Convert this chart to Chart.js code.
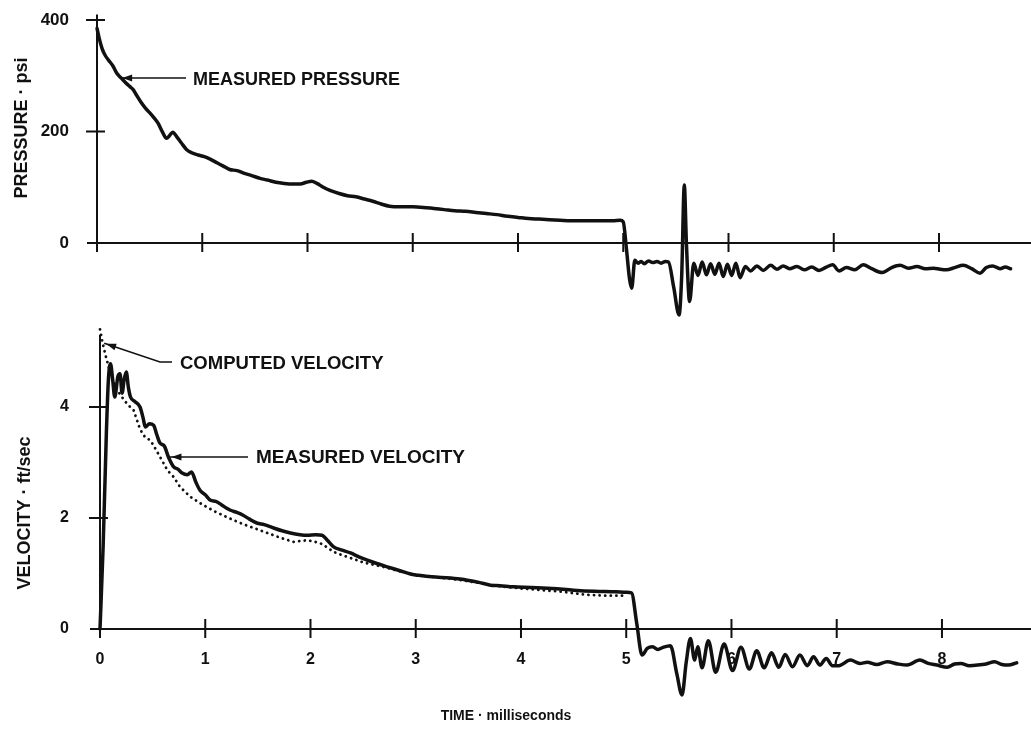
<!DOCTYPE html>
<html>
<head>
<meta charset="utf-8">
<script src="https://cdn.jsdelivr.net/npm/chart.js@4.4.0/dist/chart.umd.min.js"></script>
<style>
  html, body { margin: 0; padding: 0; background: #fff; }
  body { width: 1031px; height: 730px; position: relative; overflow: hidden; }
  canvas { position: absolute; left: 0; }
  #pressureChart { top: 0; }
  #velocityChart { top: 320px; }
</style>
</head>
<body>
<canvas id="pressureChart" width="1031" height="320"></canvas>
<canvas id="velocityChart" width="1031" height="410"></canvas>
<script>
// tick labels
const timeTicks = [0, 1, 2, 3, 4, 5, 6, 7, 8];
const pressureTicks = [0, 200, 400];
const velocityTicks = [0, 2, 4];

// measured pressure, [ms, psi]
const measuredPressure = [
  [0, 385], [0.02, 368], [0.05, 348], [0.08, 336], [0.11, 328], [0.15, 318], [0.19, 304],
  [0.23, 296], [0.27, 288], [0.31, 281], [0.34, 276], [0.38, 264], [0.42, 252], [0.46, 242],
  [0.5, 234], [0.54, 225], [0.58, 215], [0.62, 200], [0.66, 188], [0.69, 193], [0.72, 199],
  [0.76, 190], [0.8, 180], [0.85, 168], [0.9, 162], [0.96, 158], [1.02, 155], [1.08, 150],
  [1.14, 144], [1.2, 138], [1.26, 132], [1.33, 130], [1.4, 125], [1.47, 121], [1.55, 116],
  [1.62, 113], [1.7, 109], [1.78, 107], [1.86, 106], [1.93, 106], [1.99, 109], [2.04, 111],
  [2.09, 107], [2.15, 100], [2.22, 94], [2.3, 89], [2.38, 85], [2.46, 83], [2.54, 79],
  [2.62, 75], [2.7, 70], [2.78, 66], [2.88, 65], [3.0, 65], [3.1, 64], [3.2, 62], [3.3, 60],
  [3.4, 58], [3.5, 57], [3.6, 55], [3.7, 53], [3.8, 51], [3.9, 48], [4.0, 46], [4.1, 44],
  [4.2, 43], [4.3, 42], [4.4, 41], [4.5, 40], [4.6, 40], [4.7, 40], [4.8, 40], [4.9, 40],
  [4.97, 41], [5.0, 38], [5.03, -10], [5.06, -65], [5.08, -81], [5.11, -31], [5.14, -36],
  [5.17, -33], [5.2, -37], [5.24, -32], [5.28, -35], [5.32, -33], [5.36, -36], [5.4, -33],
  [5.43, -34], [5.48, -80], [5.53, -129], [5.555, -60], [5.58, 104], [5.6, 0], [5.63, -105],
  [5.67, -36], [5.71, -58], [5.75, -34], [5.79, -57], [5.83, -37], [5.87, -56], [5.91, -36],
  [5.95, -60], [5.99, -38], [6.03, -58], [6.07, -36], [6.11, -62], [6.16, -42], [6.21, -50],
  [6.27, -41], [6.33, -49], [6.4, -40], [6.46, -47], [6.52, -41], [6.58, -46], [6.65, -42],
  [6.72, -48], [6.79, -43], [6.86, -49], [6.93, -43], [6.99, -39], [7.05, -50], [7.12, -44],
  [7.2, -48], [7.28, -39], [7.36, -46], [7.46, -53], [7.55, -44], [7.63, -40], [7.71, -45],
  [7.79, -42], [7.87, -46], [7.95, -45], [8.01, -47], [8.07, -48], [8.15, -44], [8.23, -40],
  [8.31, -46], [8.39, -54], [8.45, -44], [8.51, -41], [8.58, -46], [8.63, -43], [8.68, -46]
];

// measured velocity, [ms, ft/sec]
const measuredVelocity = [
  [0, 0], [0.03, 1.5], [0.06, 3.5], [0.08, 4.5], [0.1, 4.78], [0.12, 4.5], [0.14, 4.18],
  [0.17, 4.55], [0.19, 4.6], [0.21, 4.25], [0.23, 4.5], [0.25, 4.63], [0.27, 4.35], [0.29, 4.18],
  [0.33, 4.1], [0.38, 4.0], [0.41, 3.8], [0.43, 3.64], [0.47, 3.7], [0.51, 3.67], [0.54, 3.5],
  [0.57, 3.35], [0.61, 3.3], [0.65, 3.1], [0.7, 2.92], [0.74, 2.88], [0.78, 2.81], [0.83, 2.78],
  [0.87, 2.83], [0.91, 2.65], [0.95, 2.5], [1.0, 2.42], [1.05, 2.32], [1.1, 2.3], [1.16, 2.23],
  [1.2, 2.18], [1.24, 2.14], [1.3, 2.1], [1.36, 2.05], [1.42, 1.98], [1.49, 1.91], [1.56, 1.88],
  [1.65, 1.82], [1.73, 1.77], [1.81, 1.73], [1.9, 1.7], [1.97, 1.69], [2.05, 1.7], [2.11, 1.69],
  [2.16, 1.6], [2.22, 1.48], [2.3, 1.42], [2.38, 1.37], [2.46, 1.3], [2.54, 1.24], [2.63, 1.18],
  [2.73, 1.12], [2.85, 1.05], [2.95, 0.99], [3.02, 0.97], [3.15, 0.94], [3.33, 0.92], [3.42, 0.9],
  [3.49, 0.88], [3.6, 0.84], [3.71, 0.79], [3.8, 0.78], [3.93, 0.76], [4.1, 0.75], [4.3, 0.73],
  [4.5, 0.7], [4.7, 0.68], [4.9, 0.67], [5.0, 0.66], [5.05, 0.65], [5.1, 0.1], [5.15, -0.47],
  [5.2, -0.35], [5.25, -0.32], [5.3, -0.37], [5.35, -0.33], [5.42, -0.3], [5.48, -0.8],
  [5.53, -1.19], [5.57, -0.6], [5.61, -0.17], [5.65, -0.56], [5.68, -0.32], [5.72, -0.7],
  [5.78, -0.21], [5.85, -0.78], [5.93, -0.27], [6.01, -0.75], [6.09, -0.33], [6.17, -0.72],
  [6.24, -0.39], [6.31, -0.7], [6.38, -0.43], [6.45, -0.69], [6.51, -0.46], [6.58, -0.68],
  [6.65, -0.47], [6.72, -0.66], [6.78, -0.5], [6.84, -0.65], [6.9, -0.53], [6.96, -0.66],
  [7.02, -0.66], [7.13, -0.56], [7.22, -0.62], [7.29, -0.6], [7.38, -0.64], [7.48, -0.59],
  [7.58, -0.63], [7.67, -0.65], [7.79, -0.56], [7.87, -0.62], [7.95, -0.65], [8.05, -0.69],
  [8.12, -0.63], [8.18, -0.62], [8.26, -0.66], [8.34, -0.65], [8.42, -0.63], [8.5, -0.59],
  [8.57, -0.64], [8.63, -0.65], [8.71, -0.61]
];

// computed velocity, [ms, ft/sec]
const computedVelocity = [
  [0, 5.4], [0.02, 5.2], [0.05, 4.95], [0.1, 4.6], [0.15, 4.35], [0.2, 4.2], [0.26, 4.05],
  [0.32, 3.94], [0.38, 3.6], [0.43, 3.45], [0.48, 3.4], [0.55, 3.17], [0.6, 3.0], [0.64, 2.86],
  [0.7, 2.74], [0.76, 2.56], [0.86, 2.38], [0.95, 2.27], [1.03, 2.18], [1.11, 2.1], [1.19, 2.03],
  [1.27, 1.96], [1.36, 1.89], [1.46, 1.82], [1.59, 1.73], [1.72, 1.64], [1.84, 1.57], [1.97, 1.6],
  [2.09, 1.55], [2.15, 1.48], [2.22, 1.39], [2.3, 1.33], [2.38, 1.28], [2.5, 1.2], [2.69, 1.12],
  [2.85, 1.04], [3.0, 0.97], [3.2, 0.93], [3.4, 0.89], [3.6, 0.83], [3.8, 0.77], [4.0, 0.73],
  [4.2, 0.7], [4.4, 0.67], [4.6, 0.62], [4.8, 0.6], [5.0, 0.6]
];

const ink = '#111';
const FONT = '"Liberation Sans", Arial, Helvetica, sans-serif';
Chart.defaults.font.family = FONT;
Chart.defaults.font.weight = 'bold';
Chart.defaults.color = ink;

const toXY = arr => arr.map(p => ({ x: p[0], y: p[1] }));

// axes drawn as crossing lines at zero, like the original figure
const frame = {
  id: 'frame',
  beforeDatasetsDraw(chart, args, opts) {
    const { ctx } = chart;
    const xs = chart.scales.x, ys = chart.scales.y;
    const x0 = xs.getPixelForValue(0), y0 = ys.getPixelForValue(0);
    ctx.save();
    ctx.strokeStyle = ink;
    ctx.lineWidth = 2;
    ctx.beginPath();
    ctx.moveTo(x0 - 10, y0);
    ctx.lineTo(chart.width, y0);
    ctx.moveTo(x0, y0);
    ctx.lineTo(x0, ys.getPixelForValue(opts.yTop));
    timeTicks.forEach(v => {
      const px = xs.getPixelForValue(v);
      ctx.moveTo(px, v === 0 ? y0 : y0 - 10);
      ctx.lineTo(px, y0 + 9);
    });
    opts.yTicks.forEach(v => {
      if (v === 0) return;
      const py = ys.getPixelForValue(v);
      ctx.moveTo(x0 - 11, py);
      ctx.lineTo(x0 + 8, py);
    });
    ctx.stroke();
    ctx.restore();
  }
};

// labels, leaders and axis titles
const notes = {
  id: 'notes',
  afterDatasetsDraw(chart, args, opts) {
    const { ctx } = chart;
    const xs = chart.scales.x, ys = chart.scales.y;
    ctx.save();
    ctx.fillStyle = ink;
    ctx.strokeStyle = ink;
    (opts.leaders || []).forEach(l => {
      const tx = xs.getPixelForValue(l.at[0]), ty = ys.getPixelForValue(l.at[1]);
      ctx.lineWidth = 1.5;
      ctx.beginPath();
      ctx.moveTo(tx, ty);
      l.path.forEach(p => ctx.lineTo(p[0], p[1]));
      ctx.stroke();
      const ang = Math.atan2(l.path[0][1] - ty, l.path[0][0] - tx);
      ctx.beginPath();
      ctx.moveTo(tx + 2 * Math.cos(ang), ty + 2 * Math.sin(ang));
      ctx.lineTo(tx + 12 * Math.cos(ang) - 3.5 * Math.sin(ang), ty + 12 * Math.sin(ang) + 3.5 * Math.cos(ang));
      ctx.lineTo(tx + 12 * Math.cos(ang) + 3.5 * Math.sin(ang), ty + 12 * Math.sin(ang) - 3.5 * Math.cos(ang));
      ctx.closePath();
      ctx.fill();
    });
    (opts.texts || []).forEach(t => {
      ctx.save();
      ctx.font = 'bold ' + t.size + 'px ' + FONT;
      ctx.textBaseline = 'middle';
      ctx.textAlign = t.align || 'left';
      ctx.translate(t.x, t.y);
      if (t.rotate) ctx.rotate(t.rotate);
      ctx.fillText(t.text, 0, 0);
      ctx.restore();
    });
    ctx.restore();
  }
};

const zeroPad = s => { s.paddingTop = 0; s.paddingBottom = 0; s.paddingLeft = 0; s.paddingRight = 0; };

function baseOptions(cfg) {
  return {
    responsive: false,
    animation: false,
    events: [],
    devicePixelRatio: 1,
    layout: { padding: 0 },
    elements: { point: { radius: 0 }, line: { tension: 0 } },
    scales: {
      x: {
        type: 'linear',
        display: cfg.showTime,
        position: { y: 0 },
        min: 0,
        max: cfg.xMax,
        afterBuildTicks: s => { s.ticks = timeTicks.map(v => ({ value: v })); },
        afterFit: zeroPad,
        grid: { display: false },
        border: { display: false },
        ticks: { font: { size: 16, weight: 'bold' }, padding: 13, color: ink, maxRotation: 0 }
      },
      y: {
        type: 'linear',
        position: 'left',
        min: cfg.yMin,
        max: cfg.yMax,
        afterBuildTicks: s => { s.ticks = cfg.yTicks.map(v => ({ value: v })); },
        afterFit: s => { s.width = cfg.left; zeroPad(s); },
        grid: { display: false },
        border: { display: false },
        ticks: { font: { size: cfg.ySize, weight: 'bold' }, padding: cfg.yPad, color: ink }
      }
    },
    plugins: {
      legend: { display: false },
      tooltip: { enabled: false },
      frame: { yTop: cfg.yTop, yTicks: cfg.yTicks },
      notes: cfg.notes
    }
  };
}

const measuredStyle = {
  borderColor: ink,
  borderWidth: 3.5,
  borderJoinStyle: 'round',
  borderCapStyle: 'round',
  cubicInterpolationMode: 'monotone',
  clip: false
};

new Chart(document.getElementById('pressureChart'), {
  type: 'line',
  data: {
    datasets: [Object.assign({ label: 'Measured pressure', data: toXY(measuredPressure) }, measuredStyle)]
  },
  options: baseOptions({
    showTime: false, xMax: 8.874, yMin: -138, yMax: 436, yTicks: pressureTicks,
    left: 97, ySize: 17, yPad: 20, yTop: 410,
    notes: {
      leaders: [{ at: [0.22, 296], path: [[186, 78]] }],
      texts: [
        { text: 'MEASURED PRESSURE', x: 193, y: 80, size: 18 },
        { text: 'PRESSURE · psi', x: 22, y: 128, size: 18, align: 'center', rotate: -Math.PI / 2 }
      ]
    }
  }),
  plugins: [frame, notes]
});

new Chart(document.getElementById('velocityChart'), {
  type: 'line',
  data: {
    datasets: [{
      label: 'Computed velocity',
      data: toXY(computedVelocity),
      borderColor: ink,
      borderWidth: 2.8,
      borderDash: [0.1, 5.5],
      borderCapStyle: 'round',
      clip: false
    }, Object.assign({ label: 'Measured velocity', data: toXY(measuredVelocity) }, measuredStyle)]
  },
  options: baseOptions({
    showTime: true, xMax: 8.846, yMin: -1.82, yMax: 5.568, yTicks: velocityTicks,
    left: 100, ySize: 16, yPad: 23, yTop: 5.3,
    notes: {
      leaders: [
        { at: [0.04, 5.15], path: [[160, 42], [172, 42]] },
        { at: [0.66, 3.1], path: [[248, 137]] }
      ],
      texts: [
        { text: 'COMPUTED VELOCITY', x: 180, y: 44, size: 18.5 },
        { text: 'MEASURED VELOCITY', x: 256, y: 138, size: 19 },
        { text: 'VELOCITY · ft/sec', x: 25, y: 193, size: 18, align: 'center', rotate: -Math.PI / 2 },
        { text: 'TIME · milliseconds', x: 506, y: 396, size: 14, align: 'center' }
      ]
    }
  }),
  plugins: [frame, notes]
});
</script>
</body>
</html>
